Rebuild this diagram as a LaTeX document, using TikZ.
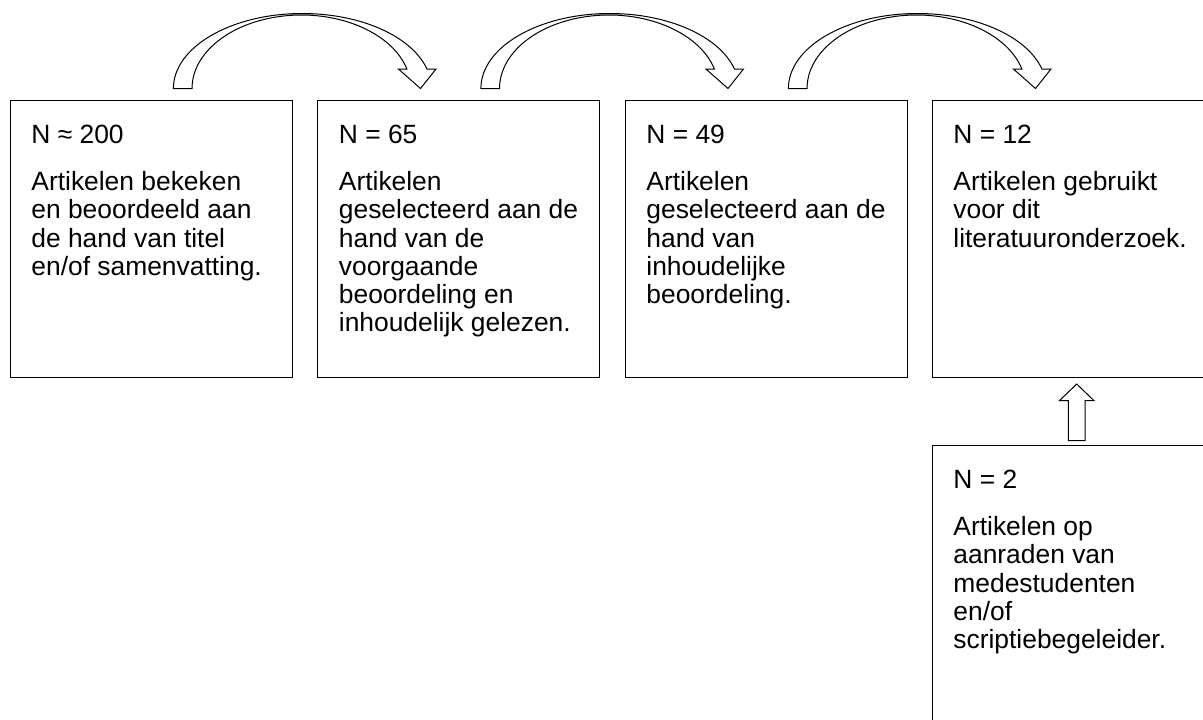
\documentclass[tikz,border=0pt]{standalone}
\usepackage{fontspec}
\setmainfont{Liberation Sans}
\usetikzlibrary{calc}
\newcommand{\toprule}{\rule{0pt}{11pt}}
\tikzset{
  box/.style={draw=black, line width=0.5pt, minimum width=141pt, minimum height=138.5pt,
    inner sep=0pt, outer sep=0pt, anchor=north west},
  txt/.style={anchor=north west, align=left, inner sep=0pt,
    font=\fontsize{13.2}{14.15}\selectfont},
  blk/.style={draw=black, line width=0.5pt, fill=white, line join=miter},
  curvedarrow/.pic={
    \draw[blk] (163.4,11.5) arc[start angle=180,end angle=15.07,x radius=129,y radius=75]
      -- (426,31) -- (410.5,11.5) -- (388.4,31) -- (396.9,31)
      arc[start angle=15.39,end angle=180,x radius=109.4,y radius=73.5] -- cycle;
  },
  uparrow/.pic={
    \draw[blk] (136.3,4.3) -- (136.3,44.3) -- (127.3,44.3) -- (144.7,61)
      -- (162,44.3) -- (153,44.3) -- (153,4.3) -- cycle;
  }
}
\begin{document}
\begin{tikzpicture}[x=0.5pt,y=0.5pt]
\useasboundingbox (0,0) rectangle (1203,-719);
\clip (0,0) rectangle (1203,-719);

\node[box] (b1) at (10,-100) {};
\node[box] (b2) at (317.5,-100) {};
\node[box] (b3) at (625,-100) {};
\node[box] (b4) at (932,-100) {};
\node[box] (b5) at (932,-445) {};

\node[txt] (t1) at ($(b1.north west)+(21,-21)$) {\toprule N ≈ 200\\[9.35pt]Artikelen bekeken\\en beoordeeld aan\\de hand van titel\\en/of samenvatting.};
\node[txt] (t2) at ($(b2.north west)+(21,-21)$) {\toprule N = 65\\[9.35pt]Artikelen\\geselecteerd aan de\\hand van de\\voorgaande\\beoordeling en\\inhoudelijk gelezen.};
\node[txt] (t3) at ($(b3.north west)+(21,-21)$) {\toprule N = 49\\[9.35pt]Artikelen\\geselecteerd aan de\\hand van\\inhoudelijke\\beoordeling.};
\node[txt] (t4) at ($(b4.north west)+(21,-21)$) {\toprule N = 12\\[9.35pt]Artikelen gebruikt\\voor dit\\literatuuronderzoek.};
\node[txt] (t5) at ($(b5.north west)+(21,-21)$) {\toprule N = 2\\[9.35pt]Artikelen op\\aanraden van\\medestudenten\\en/of\\scriptiebegeleider.};

\pic at (b1.north west) {curvedarrow};
\pic at (b2.north west) {curvedarrow};
\pic at (b3.north west) {curvedarrow};
\pic at (b5.north west) {uparrow};
\end{tikzpicture}
\end{document}
